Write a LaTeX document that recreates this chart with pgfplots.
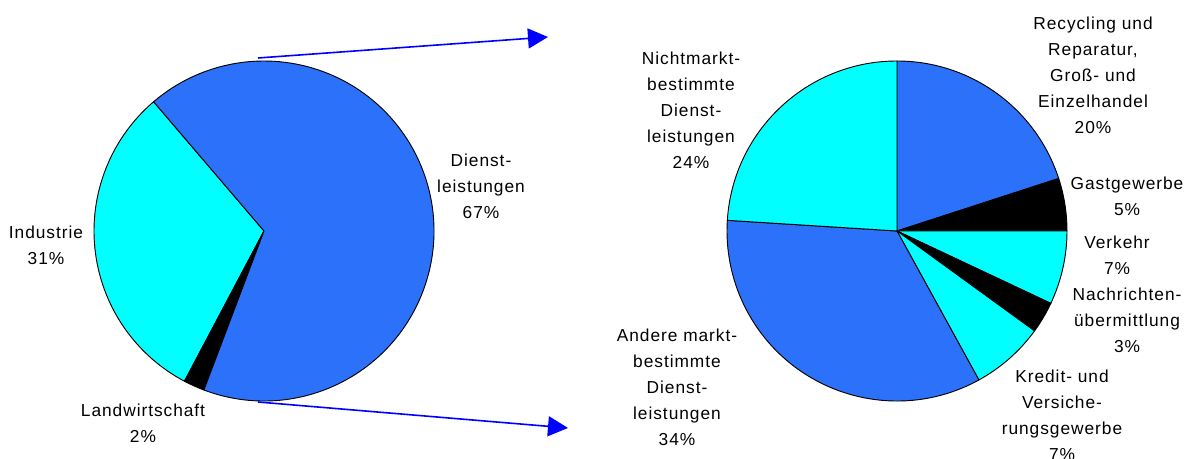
\documentclass[border=0pt]{standalone}
\usepackage{pgfplots}
\pgfplotsset{compat=1.18}
\usetikzlibrary{arrows.meta}
\usepackage{fontspec}
\setmainfont[LetterSpace=5.5]{Liberation Sans}
\definecolor{pieblue}{RGB}{44,113,250}
\definecolor{piecyan}{RGB}{0,255,255}
\definecolor{arrowblue}{RGB}{0,0,255}
% slice: centre x, centre y, start angle, share in %, colour
\newcommand{\pieslice}[5]{%
  \filldraw[fill=#5, draw=black, line width=0.7pt, line join=round]
    (axis cs:#1,#2) -- ++(#3:127.5pt)
    arc[start angle=#3, delta angle={#4*3.6}, radius=127.5pt] -- cycle;}
\tikzset{lbl/.style={align=center, inner sep=0pt,
  font=\fontsize{13pt}{19.5pt}\selectfont}}
\begin{document}
\begin{tikzpicture}
\path[use as bounding box] (0,0) rectangle (892.5pt,344.25pt);
\begin{axis}[x=0.75pt, y=0.75pt, xmin=0, xmax=1190, ymin=0, ymax=459,
  hide axis, clip=false, at={(0,0)}, anchor=origin]
% left pie: Industrie 31, Landwirtschaft 2, Dienstleistungen 67
\pieslice{264}{228}{130.5}{31}{piecyan}
\pieslice{264}{228}{242.1}{2}{black}
\pieslice{264}{228}{249.3}{67}{pieblue}
% right pie (clockwise from 12 o'clock)
\pieslice{897}{228}{90}{-20}{pieblue}
\pieslice{897}{228}{18}{-5}{black}
\pieslice{897}{228}{0}{-7}{piecyan}
\pieslice{897}{228}{-25.2}{-3}{black}
\pieslice{897}{228}{-36}{-7}{piecyan}
\pieslice{897}{228}{-61.2}{-34}{pieblue}
\pieslice{897}{228}{-183.6}{-24}{piecyan}
% arrows
\draw[arrowblue, line width=1.2pt, -{Triangle[length=15pt,width=15pt]}]
  (axis cs:258,401) -- (axis cs:548,422);
\draw[arrowblue, line width=1.2pt, -{Triangle[length=15pt,width=15pt]}]
  (axis cs:258,57) -- (axis cs:568,31);
% labels
\node[lbl] at (axis cs:46,214) {Industrie\\31\%};
\node[lbl] at (axis cs:481,273) {Dienst-\\leistungen\\67\%};
\node[lbl] at (axis cs:143,36) {Landwirtschaft\\2\%};
\node[lbl] at (axis cs:691,349) {Nichtmarkt-\\bestimmte\\Dienst-\\leistungen\\24\%};
\node[lbl] at (axis cs:1093,384) {Recycling und\\Reparatur,\\Groß- und\\Einzelhandel\\20\%};
\node[lbl] at (axis cs:1127,263) {Gastgewerbe\\5\%};
\node[lbl] at (axis cs:1117,204) {Verkehr\\7\%};
\node[lbl] at (axis cs:1127,139) {Nachrichten-\\übermittlung\\3\%};
\node[lbl] at (axis cs:677,72) {Andere markt-\\bestimmte\\Dienst-\\leistungen\\34\%};
\node[lbl] at (axis cs:1062,44) {Kredit- und\\Versiche-\\rungsgewerbe\\7\%};
\end{axis}
\end{tikzpicture}
\end{document}
